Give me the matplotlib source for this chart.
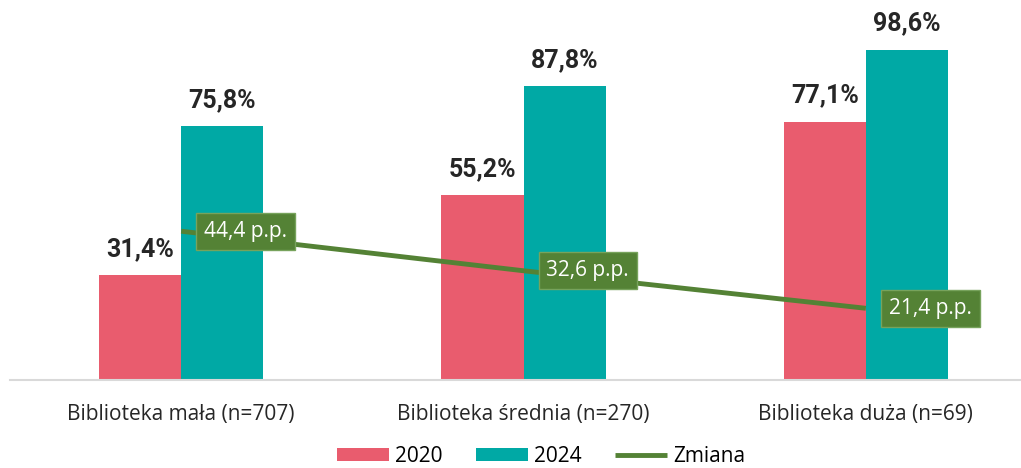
import matplotlib
matplotlib.use("Agg")
import matplotlib.pyplot as plt
import numpy as np

categories = ["Biblioteka mała (n=707)", "Biblioteka średnia (n=270)", "Biblioteka duża (n=69)"]
values_2020 = [31.4, 55.2, 77.1]
values_2024 = [75.8, 87.8, 98.6]
change_pp = [44.4, 32.6, 21.4]

labels_2020 = ["31,4%", "55,2%", "77,1%"]
labels_2024 = ["75,8%", "87,8%", "98,6%"]
labels_change = ["44,4 p.p.", "32,6 p.p.", "21,4 p.p."]

col_2020 = "#E95C6E"
col_2024 = "#00A9A5"
col_line = "#548235"

bold_font = ["Roboto", "DejaVu Sans"]
regular = ["Open Sans", "DejaVu Sans"]

fig = plt.figure(figsize=(10.21, 4.68), dpi=100)
ax = fig.add_axes([10 / 1021, 1 - 380 / 468, 1027 / 1021, 380 / 468])

x = np.arange(len(categories))
w = 0.24
b1 = ax.bar(x - w / 2, values_2020, w, color=col_2020, label="2020")
b2 = ax.bar(x + w / 2, values_2024, w, color=col_2024, label="2024")
ln, = ax.plot(x, change_pp, color=col_line, linewidth=3.5, label="Zmiana", solid_capstyle="butt")

ax.set_xlim(-0.5, 2.5)
ax.set_ylim(0, 113.4)

# value labels above bars
for xi, v, t in zip(x - w / 2, values_2020, labels_2020):
    ax.annotate(t, (xi, v), xytext=(0, 26), textcoords="offset pixels", ha="center", va="center",
                fontsize=18, fontweight="bold", family=bold_font, color="#262626")
for xi, v, t in zip(x + w / 2, values_2024, labels_2024):
    ax.annotate(t, (xi, v), xytext=(0, 26), textcoords="offset pixels", ha="center", va="center",
                fontsize=18, fontweight="bold", family=bold_font, color="#262626")
# change labels in green boxes
for xi, v, t in zip(x, change_pp, labels_change):
    ax.annotate(t, (xi, v), xytext=(23, 0), textcoords="offset pixels", ha="left", va="center",
                fontsize=15, family=regular, color="white",
                bbox=dict(boxstyle="square,pad=0.38", fc=col_line, ec="#77a35c", lw=1))

for s in ["top", "left", "right"]:
    ax.spines[s].set_visible(False)
ax.spines["bottom"].set_color("#D9D9D9")
ax.spines["bottom"].set_linewidth(1.5)
ax.set_yticks([])
ax.set_xticks(x)
ax.set_xticklabels(categories, fontsize=15, family=regular, color="#262626")
ax.tick_params(axis="x", length=0, pad=17)

fig.legend(handles=[b1, b2, ln], loc="center", bbox_to_anchor=(0.53, 1 - 456 / 468), ncol=3,
           frameon=False, prop={"family": regular, "size": 15}, handlelength=2.5, handleheight=0.6,
           columnspacing=1.6, handletextpad=0.3)

fig.savefig("out.png", dpi=100)
